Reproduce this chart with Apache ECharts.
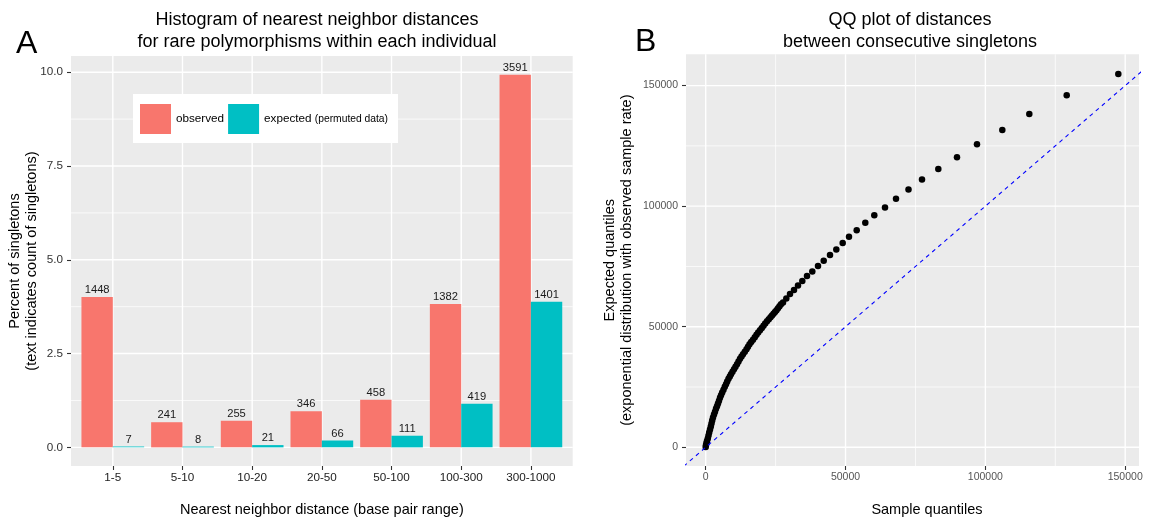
<!DOCTYPE html>
<html><head><meta charset="utf-8">
<script src="https://cdn.jsdelivr.net/npm/echarts@6/dist/echarts.min.js"></script>
<style>html,body{margin:0;padding:0;background:#fff}#c{width:1150px;height:522px}</style>
</head><body><div id="c"></div>
<script>
// ---------- Panel A data ----------
const categories = ['1-5', '5-10', '10-20', '20-50', '50-100', '100-300', '300-1000'];
const observedPct = [4.01, 0.67, 0.71, 0.96, 1.27, 3.82, 9.93];
const expectedPct = [0.02, 0.02, 0.06, 0.18, 0.31, 1.16, 3.88];
const observedCount = [1448, 241, 255, 346, 458, 1382, 3591];
const expectedCount = [7, 8, 21, 66, 111, 419, 1401];
const histYTicks = [0, 2.5, 5, 7.5, 10];
const histYMinor = [1.25, 3.75, 6.25, 8.75];

// ---------- Panel B data ----------
const qqSample = [0, 107, 286, 465, 751, 1001, 1251, 1538, 1824, 2074, 2324, 2610, 2968, 3325, 3683, 4040, 4398, 4756, 5113, 5471, 5900, 6365, 6830, 7259, 7688, 8152, 8617, 9046, 9583, 10119, 10655, 11192, 11728, 12264, 12801, 13337, 13981, 14589, 15125, 15661, 16269, 16913, 17556, 18164, 18772, 19416, 20059, 20667, 21275, 21918, 22562, 23170, 23706, 24243, 24779, 25315, 25852, 26388, 26924,
  27640, 28820, 30143, 31573, 33003, 34541, 36221, 38116, 40154, 42193, 44445, 46698, 48986, 51239, 53992, 57068, 60285, 64111, 68045, 72514, 77341, 83170, 89856, 97007, 106054, 115708, 129081, 147531];
const qqExpected = [83, 911, 1740, 2568, 3687, 4847, 6089, 7332, 8575, 9818, 11060, 12303, 13546, 14789, 15949, 17067, 18186, 19346, 20505, 21624, 22742, 23902, 25062, 26181, 27299, 28459, 29370, 30323, 31359, 32394, 33430, 34466, 35584, 36744, 37655, 38608, 39644, 40679, 41715, 42751, 43703, 44615, 45650, 46686, 47597, 48550, 49503, 50414, 51326, 52278, 53107, 53935, 54640, 55385, 56089, 56835, 57664, 58493, 59321,
  60066, 61723, 63546, 65203, 67109, 68931, 71003, 72908, 75145, 77341, 79702, 82022, 84673, 87283, 90058, 93082, 96272, 99420, 103024, 106877, 111019, 115452, 120298, 125683, 131607, 138235, 145982, 154805];
const qqTicks = [0, 50000, 100000, 150000];
const qqMinor = [25000, 75000, 125000];
const refLine = [-10000, 170000]; // y = x reference line ends

const FONT = '"Liberation Sans", Arial, Helvetica, sans-serif';

// axis ranges
const hx = {min: 0.4, max: 7.6};
const hy = {min: -0.497, max: 10.43};
const qx = {min: -7044, max: 154933};
const qy = {min: -7761, max: 162981};

function vLines(vals, y0, y1) {
  const d = [];
  vals.forEach(v => { d.push([v, y0], [v, y1], ['-', '-']); });
  return d;
}
function hLines(vals, x0, x1) {
  const d = [];
  vals.forEach(v => { d.push([x0, v], [x1, v], ['-', '-']); });
  return d;
}
function gridSeries(data, xi, width) {
  return {
    type: 'line', xAxisIndex: xi, yAxisIndex: xi, data: data, z: 1,
    showSymbol: false, symbol: 'none', silent: true, connectNulls: false,
    lineStyle: {color: '#FFFFFF', width: width}, emphasis: {disabled: true},
    tooltip: {show: false}
  };
}
const catIdx = categories.map((c, i) => i + 1);

const chart = echarts.init(document.getElementById('c'), null, {renderer: 'canvas'});
chart.setOption({
  animation: false,
  backgroundColor: '#FFFFFF',
  textStyle: {fontFamily: FONT},
  title: [
    {text: 'Histogram of nearest neighbor distances\nfor rare polymorphisms within each individual',
     left: 317, top: 9, textAlign: 'center', padding: 0,
     textStyle: {fontSize: 18, lineHeight: 22, fontWeight: 'normal', color: '#000', fontFamily: FONT}},
    {text: 'QQ plot of distances\nbetween consecutive singletons',
     left: 910, top: 9, textAlign: 'center', padding: 0,
     textStyle: {fontSize: 18, lineHeight: 22, fontWeight: 'normal', color: '#000', fontFamily: FONT}}
  ],
  graphic: [
    {type: 'text', left: 16, top: 28, style: {text: 'A', font: '32px ' + FONT, fill: '#000'}},
    {type: 'text', left: 635, top: 26, style: {text: 'B', font: '32px ' + FONT, fill: '#000'}}
  ],
  legend: {
    data: ['observed', 'expected'],
    left: 133, top: 94, orient: 'horizontal',
    itemWidth: 31, itemHeight: 30, itemGap: 4, icon: 'rect',
    padding: [10, 10, 9, 7], backgroundColor: '#FFFFFF', selectedMode: false,
    formatter: name => name === 'expected' ? '{a|expected} {b|(permuted data)}' : '{a|' + name + '}',
    textStyle: {fontFamily: FONT, color: '#000', fontSize: 11.7,
      rich: {a: {fontSize: 11.7, color: '#000', fontFamily: FONT}, b: {fontSize: 10.3, color: '#000', fontFamily: FONT}}}
  },
  grid: [
    {left: 71, top: 56.1, width: 501.7, height: 410.3, show: true, backgroundColor: '#EBEBEB', borderWidth: 0, containLabel: false},
    {left: 686, top: 54.3, width: 453, height: 412.1, show: true, backgroundColor: '#EBEBEB', borderWidth: 0, containLabel: false}
  ],
  xAxis: [
    {gridIndex: 0, type: 'value', min: hx.min, max: hx.max,
     axisLine: {show: false, onZero: false},
     axisTick: {show: true, customValues: catIdx, length: 4, lineStyle: {color: '#333', width: 1.1}},
     axisLabel: {customValues: catIdx, formatter: v => categories[Math.round(v) - 1], fontSize: 11.7, color: '#222', margin: 6, fontFamily: FONT},
     splitLine: {show: false},
     name: 'Nearest neighbor distance (base pair range)', nameLocation: 'middle', nameGap: 36, nameMoveOverlap: false,
     nameTextStyle: {fontSize: 14.5, color: '#000', fontFamily: FONT}},
    {gridIndex: 1, type: 'value', min: qx.min, max: qx.max,
     axisLine: {show: false, onZero: false},
     axisTick: {show: true, customValues: qqTicks, length: 4, lineStyle: {color: '#333', width: 1.1}},
     axisLabel: {customValues: qqTicks, formatter: v => String(v), fontSize: 10.5, color: '#555', margin: 6, fontFamily: FONT},
     splitLine: {show: false},
     name: 'Sample quantiles', nameLocation: 'middle', nameGap: 36, nameMoveOverlap: false,
     nameTextStyle: {fontSize: 14.5, color: '#000', fontFamily: FONT, padding: [0, 0, 0, 29]}}
  ],
  yAxis: [
    {gridIndex: 0, type: 'value', min: hy.min, max: hy.max,
     axisLine: {show: false, onZero: false},
     axisTick: {show: true, customValues: histYTicks, length: 4, lineStyle: {color: '#333', width: 1.1}},
     axisLabel: {customValues: histYTicks, formatter: v => v.toFixed(1), fontSize: 11.7, color: '#333', margin: 8, fontFamily: FONT},
     splitLine: {show: false},
     name: 'Percent of singletons\n(text indicates count of singletons)', nameLocation: 'middle', nameRotate: 90, nameGap: 30, nameMoveOverlap: false,
     nameTextStyle: {fontSize: 14.5, lineHeight: 17.5, color: '#000', align: 'center', fontFamily: FONT}},
    {gridIndex: 1, type: 'value', min: qy.min, max: qy.max,
     axisLine: {show: false, onZero: false},
     axisTick: {show: true, customValues: qqTicks, length: 4, lineStyle: {color: '#333', width: 1.1}},
     axisLabel: {customValues: qqTicks, formatter: v => String(v), fontSize: 10.5, color: '#555', margin: 8, fontFamily: FONT},
     splitLine: {show: false},
     name: 'Expected quantiles\n(exponential distribution with observed sample rate)', nameLocation: 'middle', nameRotate: 90, nameGap: 51, nameMoveOverlap: false,
     nameTextStyle: {fontSize: 14.5, lineHeight: 17, color: '#000', align: 'center', fontFamily: FONT}}
  ],
  series: [
    // panel A gridlines
    gridSeries(vLines(catIdx, hy.min, hy.max), 0, 1.4),
    gridSeries(hLines(histYTicks, hx.min, hx.max), 0, 1.4),
    gridSeries(hLines(histYMinor, hx.min, hx.max), 0, 0.75),
    {
      name: 'observed', type: 'bar', xAxisIndex: 0, yAxisIndex: 0, z: 2,
      data: observedPct.map((v, i) => [i + 1, v]),
      barGap: '0%', barCategoryGap: '10%',
      itemStyle: {color: '#F8766D'},
      label: {show: true, position: 'top', distance: 1.5, fontSize: 11.2, color: '#1a1a1a', fontFamily: FONT,
              formatter: p => String(observedCount[p.dataIndex])},
      emphasis: {disabled: true}
    },
    {
      name: 'expected', type: 'bar', xAxisIndex: 0, yAxisIndex: 0, z: 2,
      data: expectedPct.map((v, i) => [i + 1, v]),
      barGap: '0%', barCategoryGap: '10%',
      itemStyle: {color: '#00BFC4'},
      label: {show: true, position: 'top', distance: 1.5, fontSize: 11.2, color: '#1a1a1a', fontFamily: FONT,
              formatter: p => String(expectedCount[p.dataIndex])},
      emphasis: {disabled: true}
    },
    // panel B gridlines
    gridSeries(vLines(qqTicks, qy.min, qy.max), 1, 1.4),
    gridSeries(vLines(qqMinor, qy.min, qy.max), 1, 0.75),
    gridSeries(hLines(qqTicks, qx.min, qx.max), 1, 1.4),
    gridSeries(hLines(qqMinor, qx.min, qx.max), 1, 0.75),
    {
      name: 'qq', type: 'scatter', xAxisIndex: 1, yAxisIndex: 1, z: 3,
      data: qqSample.map((x, i) => [x, qqExpected[i]]),
      symbol: 'circle', symbolSize: 6.5, itemStyle: {color: '#000', opacity: 1},
      emphasis: {disabled: true}
    },
    {
      name: 'ref', type: 'line', xAxisIndex: 1, yAxisIndex: 1, z: 4,
      data: [[refLine[0], refLine[0]], [refLine[1], refLine[1]]],
      showSymbol: false, symbol: 'none', clip: true, silent: true,
      lineStyle: {color: '#0000FF', width: 1.1, type: [4, 4]},
      emphasis: {disabled: true}
    }
  ]
});
</script></body></html>
